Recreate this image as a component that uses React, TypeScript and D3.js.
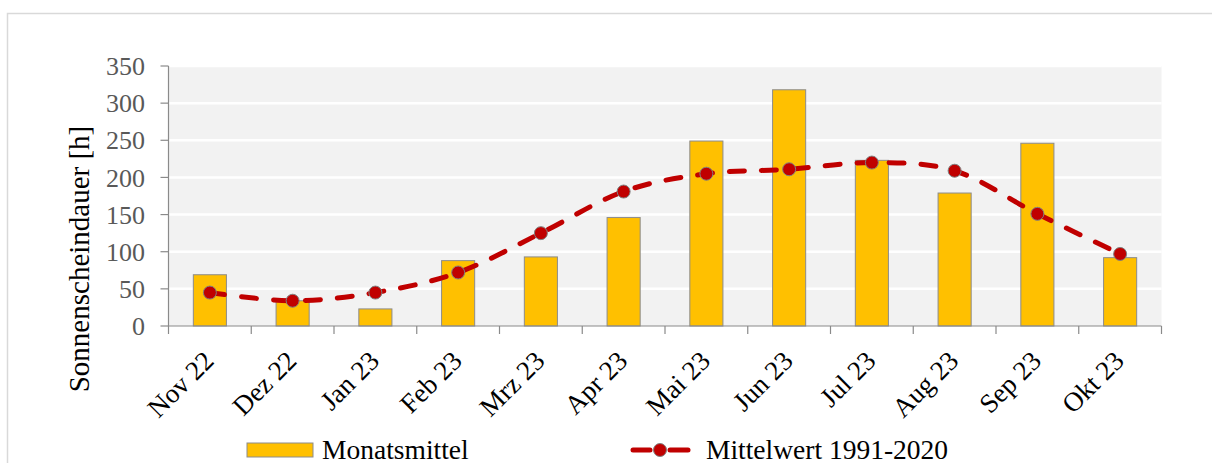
import React from "react";
import * as d3 from "d3";

const categories = ["Nov 22", "Dez 22", "Jan 23", "Feb 23", "Mrz 23", "Apr 23", "Mai 23", "Jun 23", "Jul 23", "Aug 23", "Sep 23", "Okt 23"];
const monatsmittel = [69, 34, 23, 88, 93, 146, 249, 318, 223, 179, 246, 92];
const mittelwert = [45, 34, 45, 72, 125, 181, 205, 211, 220, 209, 151, 97];
const yTicks = [0, 50, 100, 150, 200, 250, 300, 350];
const legendLabels = ["Monatsmittel", "Mittelwert 1991-2020"];

const W = 1212;
const H = 463;
const plot = { left: 168.5, right: 1161.5, top: 66, bottom: 326 };
const FONT = "'Liberation Serif', 'Times New Roman', serif";

export default function App() {
  const x = d3.scaleBand<string>().domain(categories).range([plot.left, plot.right]).paddingInner(0).paddingOuter(0);
  const y = d3.scaleLinear().domain([0, 350]).range([plot.bottom, plot.top]);
  const bw = x.bandwidth() * 0.4;
  const cx = (c: string) => (x(c) as number) + x.bandwidth() / 2;

  const line = d3
    .line<number>()
    .x((_, i) => cx(categories[i]))
    .y((d) => y(d))
    .curve(d3.curveCardinal.tension(0));

  const axisColor = "#8a8a8a";
  const red = "#C00000";

  return (
    <svg width={W} height={H} style={{ position: "absolute", left: 0, top: 0, background: "#fff" }} fontFamily={FONT}>
      <rect x={7.5} y={13.5} width={W + 20} height={H + 20} fill="#fff" stroke="#d9d9d9" strokeWidth={1.5} />
      <rect x={plot.left} y={plot.top} width={plot.right - plot.left} height={plot.bottom - plot.top} fill="#f2f2f2" />
      {yTicks.slice(1).map((t) => (
        <line key={"g" + t} x1={plot.left} x2={plot.right} y1={y(t)} y2={y(t)} stroke="#fff" strokeWidth={2.5} />
      ))}
      {categories.map((c, i) => (
        <rect
          key={"b" + c}
          x={cx(c) - bw / 2}
          y={y(monatsmittel[i])}
          width={bw}
          height={y(0) - y(monatsmittel[i])}
          fill="#FFC000"
          stroke="#8c8c8c"
          strokeWidth={1}
        />
      ))}
      {/* axes */}
      <line x1={plot.left} x2={plot.left} y1={plot.top} y2={plot.bottom} stroke={axisColor} strokeWidth={1.2} />
      <line x1={plot.left} x2={plot.right} y1={plot.bottom} y2={plot.bottom} stroke={axisColor} strokeWidth={1.2} />
      {yTicks.map((t) => (
        <g key={"yt" + t}>
          <line x1={plot.left - 8} x2={plot.left} y1={y(t)} y2={y(t)} stroke={axisColor} strokeWidth={1.2} />
          <text x={145} y={y(t)} dy="0.35em" textAnchor="end" fontSize={26} fill="#595959">
            {t}
          </text>
        </g>
      ))}
      {[...categories.map((c) => x(c) as number), plot.right].map((v, i) => (
        <line key={"xt" + i} x1={v} x2={v} y1={plot.bottom} y2={plot.bottom + 8} stroke={axisColor} strokeWidth={1.2} />
      ))}
      {categories.map((c) => (
        <text
          key={"xl" + c}
          transform={`translate(${cx(c) - 8},${plot.bottom + 23}) rotate(-45)`}
          textAnchor="end"
          dy="0.7em"
          fontSize={27}
          fill="#000"
        >
          {c}
        </text>
      ))}
      <text transform={`translate(89,259) rotate(-90)`} textAnchor="middle" fontSize={29} fill="#000">
        Sonnenscheindauer [h]
      </text>
      {/* line */}
      <path d={line(mittelwert) || ""} fill="none" stroke={red} strokeWidth={5} strokeDasharray="15 17" strokeLinecap="round" />
      {mittelwert.map((v, i) => (
        <circle key={"m" + i} cx={cx(categories[i])} cy={y(v)} r={6.5} fill={red} stroke="#808080" strokeWidth={1} />
      ))}
      {/* legend */}
      <rect x={247} y={443} width={66} height={14} fill="#FFC000" stroke="#8c8c8c" strokeWidth={1} />
      <text x={322} y={459} fontSize={27.5} fill="#000">
        {legendLabels[0]}
      </text>
      <line x1={633} x2={650} y1={450} y2={450} stroke={red} strokeWidth={5} strokeLinecap="round" />
      <line x1={670} x2={688} y1={450} y2={450} stroke={red} strokeWidth={5} strokeLinecap="round" />
      <circle cx={660} cy={450} r={6.5} fill={red} stroke="#808080" strokeWidth={1} />
      <text x={706} y={459} fontSize={27.5} fill="#000">
        {legendLabels[1]}
      </text>
    </svg>
  );
}
